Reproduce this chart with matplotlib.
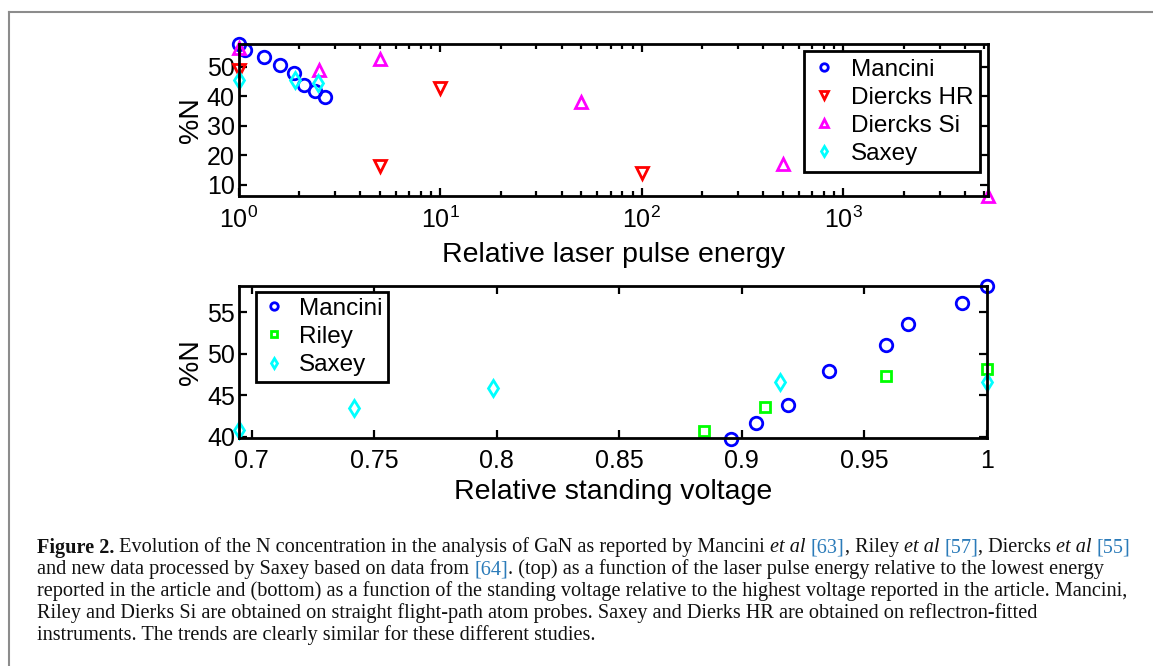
import matplotlib
matplotlib.use("Agg")
import matplotlib.pyplot as plt
from matplotlib.lines import Line2D
import numpy as np

# ---------------- data ----------------
# top: relative laser pulse energy vs %N
mancini_energy = [1.0, 1.08, 1.335, 1.6, 1.88, 2.11, 2.39, 2.69]
mancini_N_top = [57.7, 55.9, 53.4, 50.8, 48.0, 43.8, 41.8, 39.9]
diercks_hr_energy = [1, 5, 10, 100]
diercks_hr_N = [49.1, 16.2, 42.7, 14.0]
diercks_si_energy = [1, 2.5, 5, 50, 500, 5200]
diercks_si_N = [56.6, 49.1, 52.8, 38.2, 17.1, 6.1]
saxey_energy = [1, 1.9, 2.48]
saxey_N_top = [45.5, 45.5, 44.4]

# bottom: relative standing voltage vs %N
mancini_volt = [1.0, 0.990, 0.968, 0.959, 0.9356, 0.9188, 0.9058, 0.8956]
mancini_N_bot = [58.2, 56.1, 53.6, 51.0, 47.9, 43.8, 41.7, 39.7]
riley_volt = [0.8848, 0.9095, 0.959, 1.0]
riley_N = [40.7, 43.6, 47.3, 48.2]
saxey_volt = [0.695, 0.742, 0.7984, 0.9157, 1.0]
saxey_N_bot = [40.8, 43.5, 45.9, 46.6, 46.6]

top_xlim = (1, 5200)
top_ylim = (6.2, 57.8)
top_yticks = [10, 20, 30, 40, 50]
bot_xlim = (0.695, 1.0)
bot_ylim = (39.8, 58.2)
bot_xticks = [0.7, 0.75, 0.8, 0.85, 0.9, 0.95, 1.0]
bot_xticklabels = ["0.7", "0.75", "0.8", "0.85", "0.9", "0.95", "1"]
bot_yticks = [40, 45, 50, 55]

xlabel_top = "Relative laser pulse energy"
xlabel_bot = "Relative standing voltage"
ylabel = "%N"

caption_lines = [
    [("Figure 2.", "b"), (" Evolution of the N concentration in the analysis of GaN as reported by Mancini ", "n"),
     ("et al", "i"), (" ", "n"), ("[63]", "c"), (", Riley ", "n"), ("et al", "i"), (" ", "n"), ("[57]", "c"),
     (", Diercks ", "n"), ("et al", "i"), (" ", "n"), ("[55]", "c")],
    [("and new data processed by Saxey based on data from ", "n"), ("[64]", "c"),
     (". (top) as a function of the laser pulse energy relative to the lowest energy", "n")],
    [("reported in the article and (bottom) as a function of the standing voltage relative to the highest voltage reported in the article. Mancini,", "n")],
    [("Riley and Dierks Si are obtained on straight flight-path atom probes. Saxey and Dierks HR are obtained on reflectron-fitted", "n")],
    [("instruments. The trends are clearly similar for these different studies.", "n")],
]

# ---------------- style ----------------
plt.rcParams['font.family'] = ['Liberation Sans', 'DejaVu Sans']
plt.rcParams['mathtext.fontset'] = 'custom'
plt.rcParams['mathtext.rm'] = 'Liberation Sans'
plt.rcParams['mathtext.it'] = 'Liberation Sans:italic'

W, H = 1153, 666
fig = plt.figure(figsize=(W / 100, H / 100), dpi=100)
fig.patch.set_facecolor('white')

# outer gray frame (only top and left visible)
fig.add_artist(Line2D([9 / W, 1.0], [1 - 12 / H, 1 - 12 / H], color='#8c8c8c', lw=1.5, transform=fig.transFigure))
fig.add_artist(Line2D([9 / W, 9 / W], [0, 1 - 12 / H], color='#8c8c8c', lw=1.5, transform=fig.transFigure))

def ax_rect(l, t, r, b):
    return [l / W, 1 - b / H, (r - l) / W, (b - t) / H]

TICK_FS = 18
LAB_FS = 20.5
LEG_FS = 17.5

def style_axes(ax):
    for s in ax.spines.values():
        s.set_linewidth(2.0)
    ax.tick_params(which='both', direction='in', top=True, right=True, width=1.6,
                   labelsize=TICK_FS)
    ax.tick_params(axis='y', pad=3)
    ax.tick_params(axis='x', pad=8)
    ax.tick_params(which='major', length=6)
    ax.tick_params(which='minor', length=3.5)

mk = dict(linestyle='none', mfc='none', mew=2.0, clip_on=False)

# ---- top axes ----
ax1 = fig.add_axes(ax_rect(238.7, 44, 987.7, 195.7))
ax1.set_xscale('log')
ax1.plot(mancini_energy, mancini_N_top, marker='o', color='#0000ff', ms=9, label='Mancini', **mk)
ax1.plot(diercks_hr_energy, diercks_hr_N, marker='v', color='#ff0000', ms=9, label='Diercks HR', **mk)
ax1.plot(diercks_si_energy, diercks_si_N, marker='^', color='#ff00ff', ms=9, label='Diercks Si', **mk)
ax1.plot(saxey_energy, saxey_N_top, marker='d', color='#00ffff', ms=8, label='Saxey', **mk)
ax1.set_xlim(*top_xlim)
ax1.set_ylim(*top_ylim)
ax1.set_yticks(top_yticks)
style_axes(ax1)
ax1.set_xlabel(xlabel_top, fontsize=LAB_FS, labelpad=6)
ax1.set_ylabel(ylabel, fontsize=LAB_FS, labelpad=2)
leg1 = ax1.legend(loc='upper right', fontsize=LEG_FS, markerscale=0.6, handlelength=1.0,
                  handletextpad=0.6, labelspacing=0.25, borderpad=0.3, fancybox=False,
                  framealpha=1, edgecolor='black', borderaxespad=0.3)
leg1.get_frame().set_linewidth(2.0)

# ---- bottom axes ----
ax2 = fig.add_axes(ax_rect(239.3, 285.7, 986.7, 438.3))
ax2.plot(mancini_volt, mancini_N_bot, marker='o', color='#0000ff', ms=9, label='Mancini', **mk)
ax2.plot(riley_volt, riley_N, marker='s', color='#00ff00', ms=7.5, label='Riley', **mk)
ax2.plot(saxey_volt, saxey_N_bot, marker='d', color='#00ffff', ms=8, label='Saxey', **mk)
ax2.set_xlim(*bot_xlim)
ax2.set_ylim(*bot_ylim)
ax2.set_xticks(bot_xticks)
ax2.set_xticklabels(bot_xticklabels)
ax2.set_yticks(bot_yticks)
style_axes(ax2)
ax2.set_xlabel(xlabel_bot, fontsize=LAB_FS, labelpad=4)
ax2.set_ylabel(ylabel, fontsize=LAB_FS, labelpad=2)
leg2 = ax2.legend(loc='upper left', bbox_to_anchor=(0.0223, 0.96), fontsize=LEG_FS,
                  markerscale=0.6, handlelength=1.0, handletextpad=0.5, labelspacing=0.25,
                  borderpad=0.25, fancybox=False, framealpha=1, edgecolor='black',
                  borderaxespad=0.0)
leg2.get_frame().set_linewidth(2.0)

# ---------------- caption ----------------
renderer = fig.canvas.get_renderer()
SERIF = ['Liberation Serif', 'DejaVu Serif']
CITE = '#2b7bb9'

def run_props(style):
    p = dict(family=SERIF, color='#111111', fontweight='normal', fontstyle='normal')
    if style == 'b':
        p['fontweight'] = 'bold'
    elif style == 'i':
        p['fontstyle'] = 'italic'
    elif style == 'c':
        p['color'] = CITE
    return p

def measure(s, style, fs):
    p = run_props(style)
    t1 = fig.text(0, 0, "|" + s + "|", fontsize=fs, **p)
    t2 = fig.text(0, 0, "||", fontsize=fs, **p)
    w = t1.get_window_extent(renderer).width - t2.get_window_extent(renderer).width
    t1.remove(); t2.remove()
    return w

def line_width(runs, fs):
    return sum(measure(s, st, fs) for s, st in runs)

base_fs = 12.0
target = 1125 - 37
fs_cap = base_fs * target / line_width(caption_lines[0], base_fs)

x0 = 37
ys = [545, 567, 589, 611, 633]
for runs, yc in zip(caption_lines, ys):
    x = x0
    for s, st in runs:
        w = measure(s, st, fs_cap)
        fig.text(x / W, 1 - yc / H, s, fontsize=fs_cap, va='center_baseline', ha='left',
                 **run_props(st))
        x += w

fig.savefig('out.png', dpi=100, facecolor='white')
